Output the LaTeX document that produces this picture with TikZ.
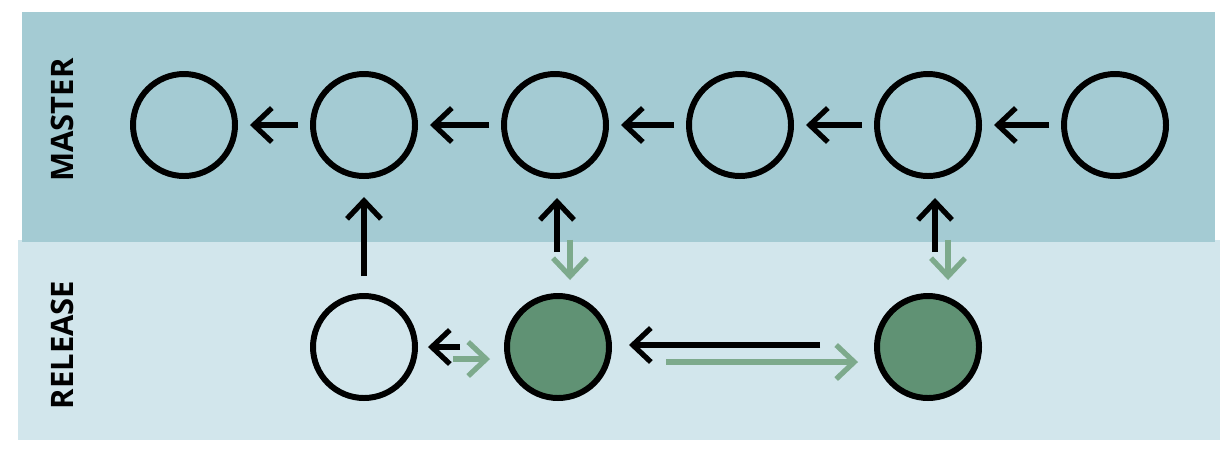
\documentclass[tikz,border=0pt]{standalone}
\usepackage{fontspec}
\setsansfont{Open Sans}
\usetikzlibrary{positioning}
\usetikzlibrary{arrows.meta}
\definecolor{masterband}{RGB}{164,203,211}
\definecolor{releaseband}{RGB}{210,230,236}
\definecolor{pickgreen}{RGB}{96,146,116}
\definecolor{arrowgreen}{RGB}{125,170,140}
\tikzset{
    commit/.style={shape=circle,draw=black,line width=1.7pt,minimum size=1.02cm,inner sep=0pt},
    picked/.style={commit,fill=pickgreen},
    back/.style={line width=1.5pt,-{Straight Barb[length=1.8mm, width=3.4mm]}},
    fwd/.style={back,color=arrowgreen},
    lane/.style={rotate=90,font=\sffamily\bfseries\fontsize{8.8}{10}\selectfont}
}

\begin{document}
\begin{tikzpicture}
    \useasboundingbox (0,0) rectangle (12.25,4.58);
    \fill[releaseband] (0.18,0.18) rectangle (12.2,2.18);
    \fill[masterband] (0.22,2.16) rectangle (12.15,4.46);

    \node[lane] (master_label) at (0.62,3.38) {MASTER};
    \node[lane] (release_label) at (0.62,1.13) {RELEASE};

    \node[commit] (M_1) at (1.84,3.33) {};
    \node[commit] (M_2) at (3.64,3.33) {};
    \node[commit] (M_3) at (5.55,3.33) {};
    \node[commit] (M_4) at (7.40,3.33) {};
    \node[commit] (M_5) at (9.28,3.33) {};
    \node[commit] (M_6) at (11.15,3.33) {};

    \node[commit] (R_1) at (3.64,1.11) {};
    \node[picked] (R_2) at (5.58,1.11) {};
    \node[picked] (R_3) at (9.28,1.11) {};

    % master history
    \path [back, shorten <=0.12cm, shorten >=0.12cm] (M_2) edge (M_1);
    \path [back, shorten <=0.12cm, shorten >=0.12cm] (M_3) edge (M_2);
    \path [back, shorten <=0.12cm, shorten >=0.12cm] (M_4) edge (M_3);
    \path [back, shorten <=0.12cm, shorten >=0.12cm] (M_5) edge (M_4);
    \path [back, shorten <=0.12cm, shorten >=0.12cm] (M_6) edge (M_5);

    % branch point
    \path [back, shorten <=0.17cm, shorten >=0.18cm] (R_1) edge (M_2);

    % cherry picks
    \path [back, shorten <=0.41cm, shorten >=0.19cm] ([xshift=-0.01cm]R_2.north) edge ([xshift=-0.01cm]R_2.north |- M_3.south);
    \path [fwd, shorten <=0.61cm, shorten >=0.13cm] ([xshift=0.12cm]R_2.north |- M_3.south) edge ([xshift=0.12cm]R_2.north);
    \path [back, shorten <=0.41cm, shorten >=0.19cm] ([xshift=0.07cm]R_3.north) edge ([xshift=0.07cm]R_3.north |- M_5.south);
    \path [fwd, shorten <=0.61cm, shorten >=0.13cm] ([xshift=0.20cm]R_3.north |- M_5.south) edge ([xshift=0.20cm]R_3.north);

    % release history
    \path [back, shorten <=0.44cm, shorten >=0.10cm] (R_2.west) edge (R_1.east |- R_2.west);
    \path [fwd, shorten <=0.35cm, shorten >=0.14cm] ([yshift=-0.12cm]R_1.east) edge ([yshift=-0.12cm]R_1.east -| R_2.west);
    \path [back, shorten <=0.54cm, shorten >=0.17cm] ([yshift=0.02cm]R_3.west) edge ([yshift=0.02cm]R_3.west -| R_2.east);
    \path [fwd, shorten <=0.54cm, shorten >=0.16cm] ([yshift=-0.15cm]R_2.east) edge ([yshift=-0.15cm]R_2.east -| R_3.west);
\end{tikzpicture}
\end{document}
